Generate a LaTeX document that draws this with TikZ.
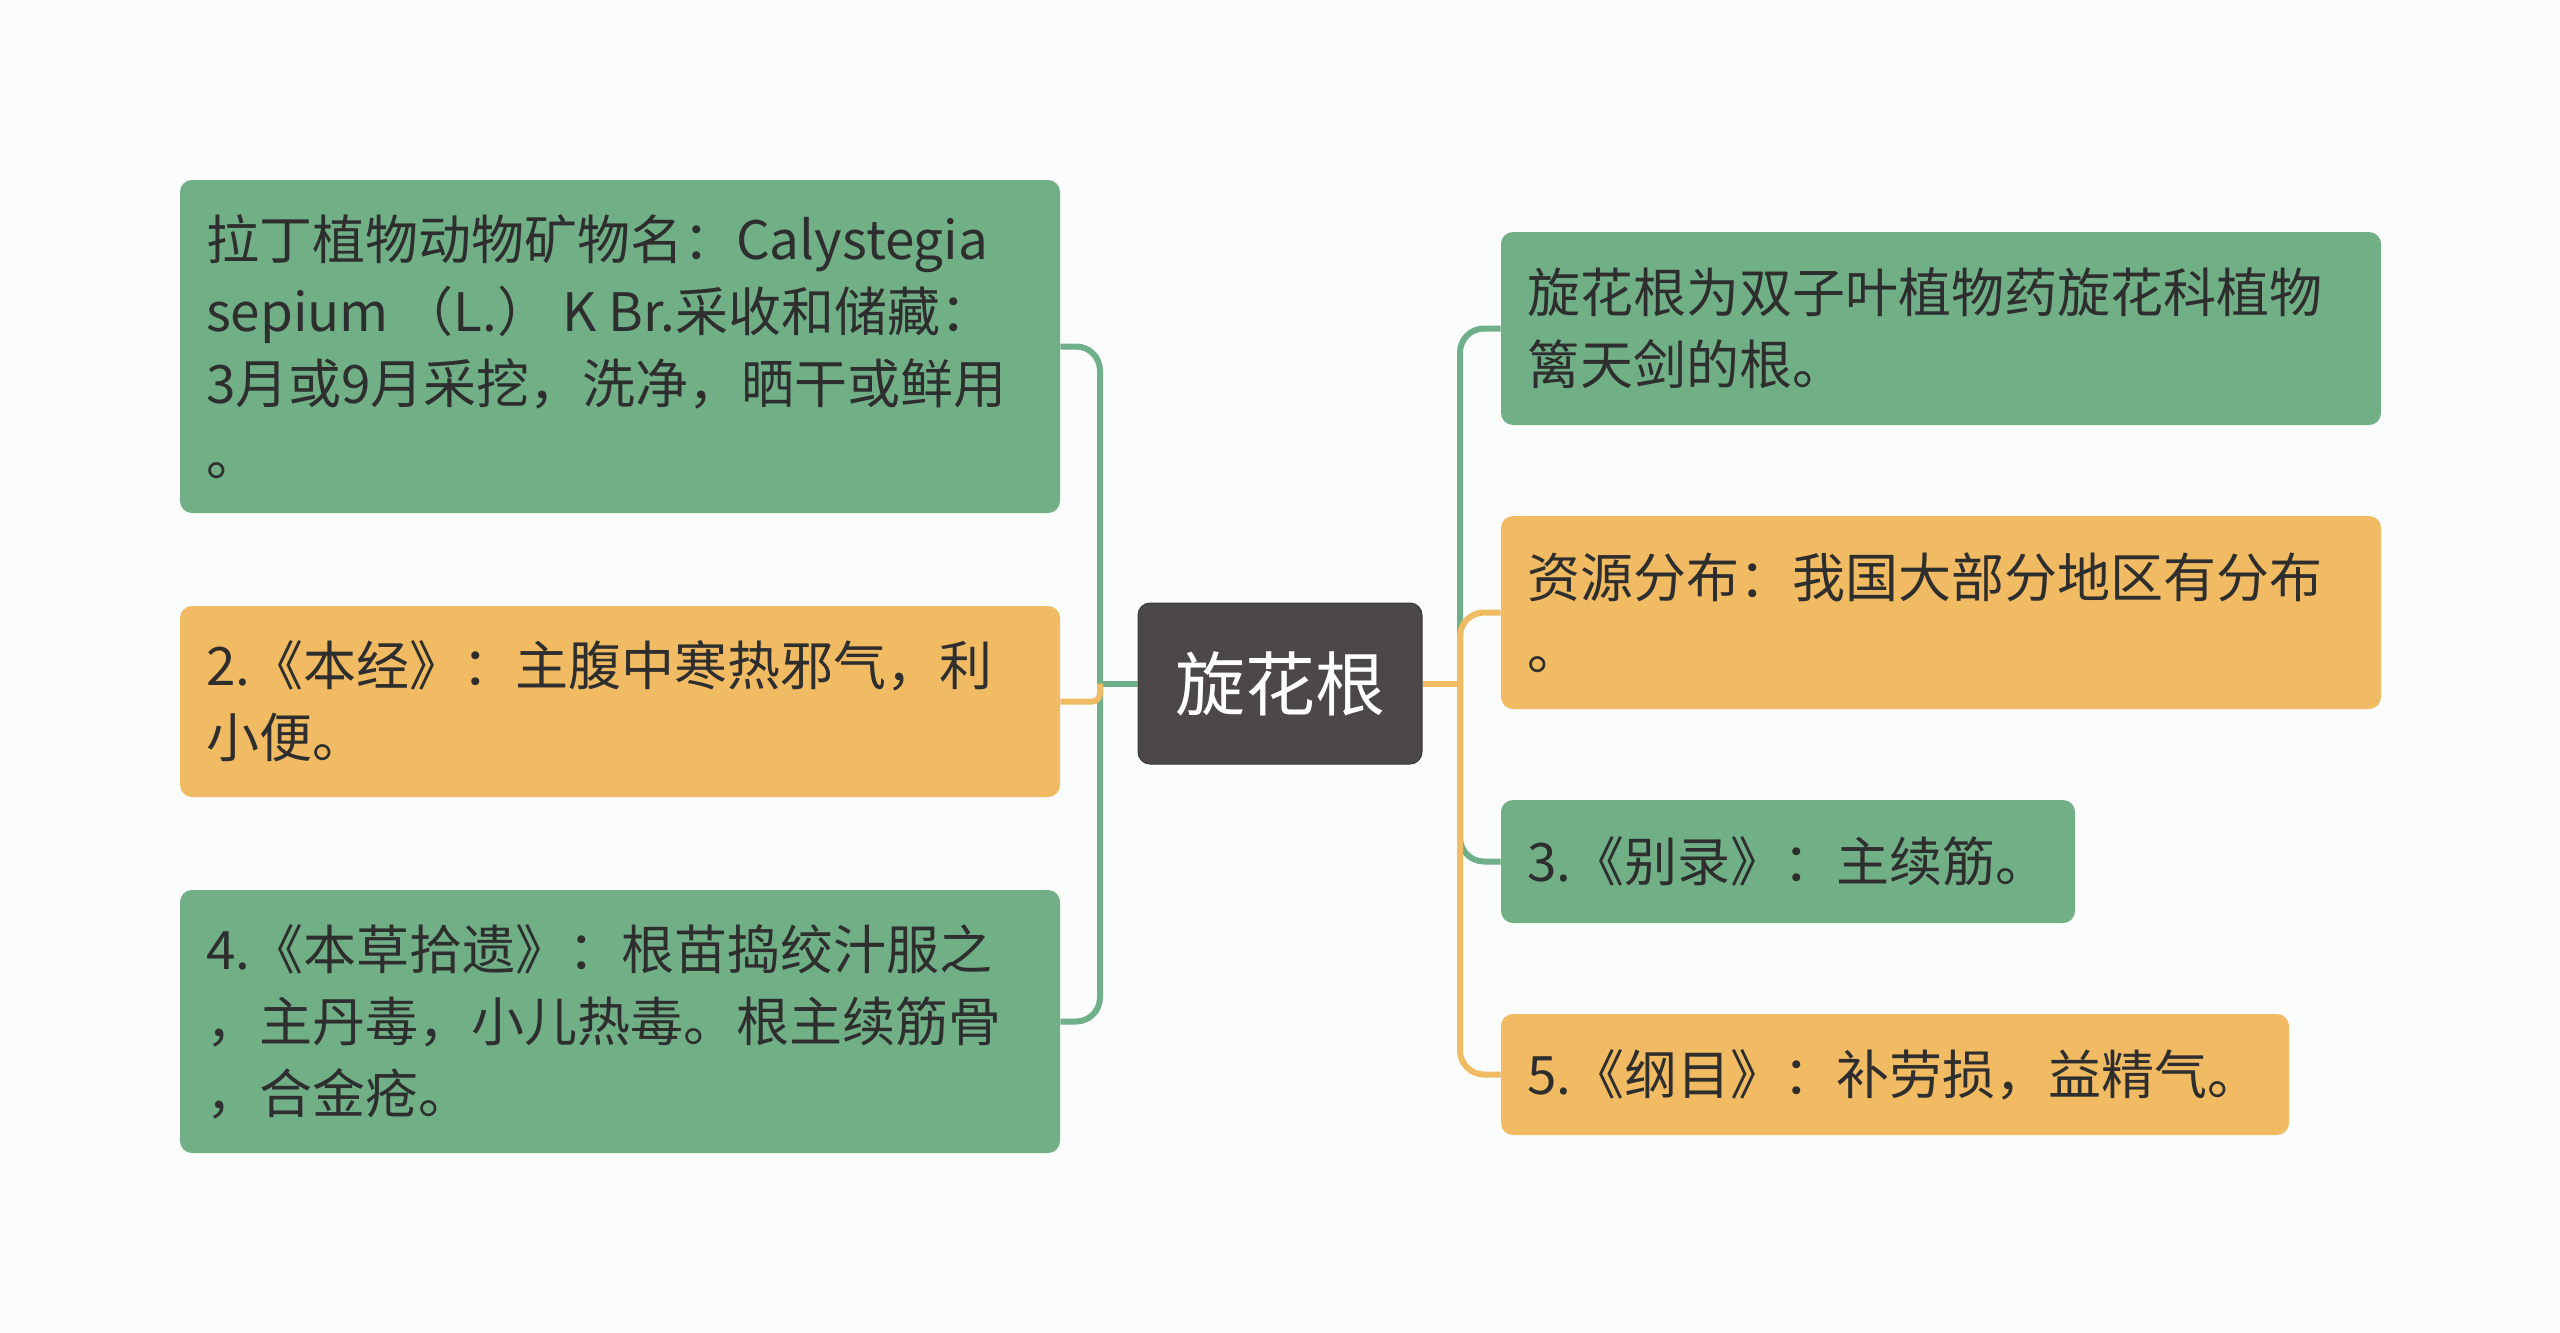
\documentclass[tikz,border=0pt]{standalone}
\usepackage{fontspec}
\setmainfont{Noto Sans CJK SC}
\definecolor{bg}{HTML}{FBFDFC}
\definecolor{gfill}{HTML}{71B087}
\definecolor{ofill}{HTML}{F0BB63}
\definecolor{cfill}{HTML}{4D4848}
\definecolor{gline}{HTML}{6FB08A}
\definecolor{oline}{HTML}{F0BB62}
\definecolor{txt}{HTML}{2E2E2E}
\tikzset{
  box/.style={rounded corners=6pt, inner sep=0pt},
  gbox/.style={box, fill=gfill},
  obox/.style={box, fill=ofill},
  cbox/.style={box, fill=cfill, draw=cfill!80!black, line width=0.5pt},
  btext/.style={anchor=west, inner sep=0pt, align=left, text=txt,
    font=\fontsize{26.5}{36}\selectfont},
  ctext/.style={inner sep=0pt, text=white, font=\fontsize{35}{42}\selectfont},
  gconn/.style={draw=gline, line width=3pt, rounded corners=12pt},
  oconn/.style={draw=oline, line width=3pt, rounded corners=12pt}
}
\begin{document}
\begin{tikzpicture}[x=0.5pt,y=-0.5pt]
\fill[bg] (0,0) rectangle (2560,1333);
\useasboundingbox (0,0) rectangle (2560,1333);

% boxes
\node[gbox, minimum width=440pt, minimum height=166.5pt] (l1) at (620,346.5) {};
\node[obox, minimum width=440pt, minimum height=95.5pt] (l2) at (620,701.5) {};
\node[gbox, minimum width=440pt, minimum height=131.5pt] (l3) at (620,1021.5) {};
\node[cbox, minimum width=142pt, minimum height=80.5pt] (c) at (1280,683.5) {};
\node[gbox, minimum width=440pt, minimum height=96.5pt] (r1) at (1941,328.5) {};
\node[obox, minimum width=440pt, minimum height=96.5pt] (r2) at (1941,612.5) {};
\node[gbox, minimum width=287pt, minimum height=61.5pt] (r3) at (1788,861.5) {};
\node[obox, minimum width=394pt, minimum height=60.5pt] (r4) at (1895,1074.5) {};

% texts
\node[btext] (l1t) at ([xshift=13pt]l1.west) {拉丁植物动物矿物名：Calystegia\\sepium （L.） K Br.采收和储藏：\\3月或9月采挖，洗净，晒干或鲜用\\。};
\node[btext] (l2t) at ([xshift=13pt]l2.west) {2.《本经》：主腹中寒热邪气，利\\小便。};
\node[btext] (l3t) at ([xshift=13pt]l3.west) {4.《本草拾遗》：根苗捣绞汁服之\\，主丹毒，小儿热毒。根主续筋骨\\，合金疮。};
\node[ctext] (ct) at (c.center) {旋花根};
\node[btext] (r1t) at ([xshift=13pt]r1.west) {旋花根为双子叶植物药旋花科植物\\篱天剑的根。};
\node[btext] (r2t) at ([xshift=13pt]r2.west) {资源分布：我国大部分地区有分布\\。};
\node[btext] (r3t) at ([xshift=13pt]r3.west) {3.《别录》：主续筋。};
\node[btext] (r4t) at ([xshift=13pt]r4.west) {5.《纲目》：补劳损，益精气。};

% junctions
\coordinate (lj) at (1100,683.5);
\coordinate (rj) at (1460,683.5);

% left connectors
\draw[gconn] (l1.east) -| (lj) |- (l3.east);
\draw[gconn] (c.west) -- (lj);
\draw[oconn, rounded corners=4pt] (lj) |- (l2.east);

% right connectors
\draw[gconn] (r1.west) -| (rj) |- (r3.west);
\draw[oconn] (r2.west) -| (rj) |- (r4.west);
\draw[oconn] (c.east) -- (rj);
\end{tikzpicture}
\end{document}
